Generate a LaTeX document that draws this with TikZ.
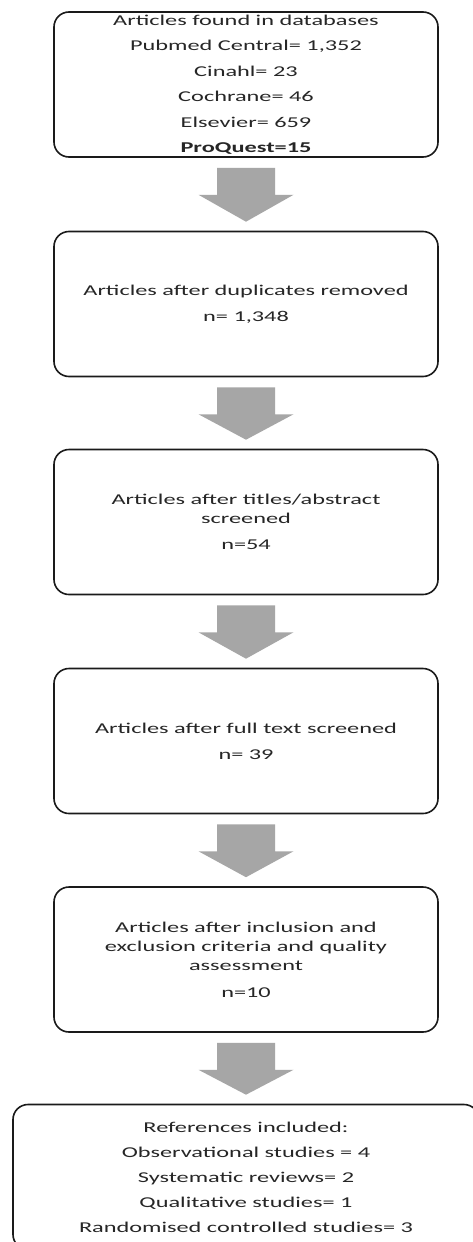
\documentclass[tikz,border=0pt]{standalone}
\usepackage{fontspec}
\setmainfont{Carlito}[FakeStretch=1.62]
\usetikzlibrary{calc}
\definecolor{arrowgray}{HTML}{A6A6A6}
\definecolor{boxline}{HTML}{1A1A1A}
\tikzset{
  flowbox/.style={draw=boxline, line width=1.6pt, rounded corners=15pt,
    minimum width=384pt, minimum height=145pt, align=center, inner sep=0pt,
    font=\fontsize{15}{19}\selectfont, text=black!85},
  widebox/.style={flowbox, minimum width=466pt},
  blockarrow/.style={fill=arrowgray, draw=none}
}
\begin{document}
\begin{tikzpicture}[x=1pt,y=1pt]
\useasboundingbox (0,0) rectangle (473,-1242);
\fill[white] (0,0) rectangle (473,-1242);
\clip (0,0) rectangle (473,-1242);
\node[flowbox] (b1) at (246,-84.5) {Articles found in databases\\[6.5pt]Pubmed Central= 1,352\\[6.5pt]Cinahl= 23\\[6.5pt]Cochrane= 46\\[6.5pt]Elsevier= 659\\[6.5pt]\textbf{ProQuest=15}};
\node[flowbox] (b2) at (246,-304) {Articles after duplicates removed\\[7pt]n= 1,348};
\node[flowbox] (b3) at (246,-522) {Articles after titles/abstract\\screened\\[7pt]n=54};
\node[flowbox] (b4) at (246,-741) {Articles after full text screened\\[7pt]n= 39};
\node[flowbox] (b5) at (246,-959.5) {Articles after inclusion and\\exclusion criteria and quality\\assessment\\[8pt]n=10};
\node[widebox] (b6) at (246,-1177) {References included:\\[6pt]Observational studies = 4\\[6pt]Systematic reviews= 2\\[6pt]Qualitative studies= 1\\[6pt]Randomised controlled studies= 3};
\foreach \a/\b in {b1/b2,b2/b3,b3/b4,b4/b5,b5/b6}{
  \fill[blockarrow] ($(\a.south)+(-29,-10)$) -- ($(\a.south)+(29,-10)$)
    -- ($(\a.south)+(29,-37)$) -- ($(\a.south)+(47.5,-37)$)
    -- ($(\b.north)+(0,9)$)
    -- ($(\a.south)+(-47.5,-37)$) -- ($(\a.south)+(-29,-37)$) -- cycle;
}
\end{tikzpicture}
\end{document}
